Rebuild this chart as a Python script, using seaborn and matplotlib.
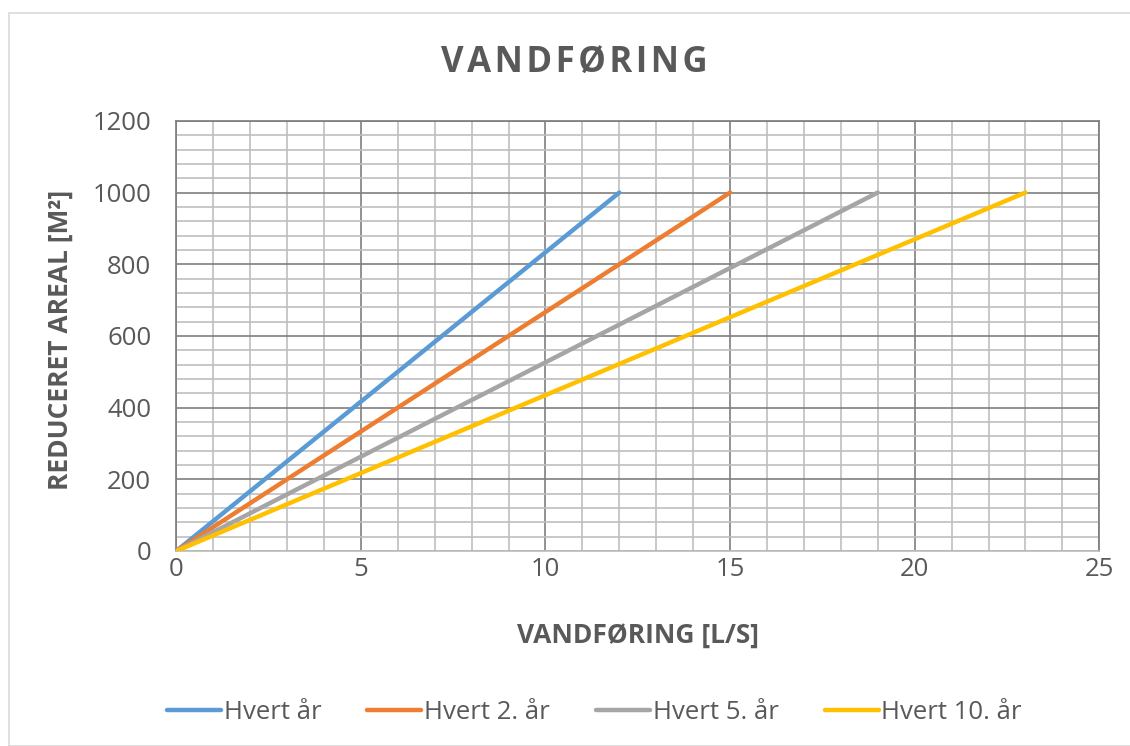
import seaborn as sns
import matplotlib.pyplot as plt
from matplotlib.ticker import MultipleLocator
from matplotlib.patches import Rectangle
import pandas as pd

sns.set_theme(style="white")
plt.rcParams['font.family'] = ['Open Sans', 'DejaVu Sans']

# data
series = ['Hvert år', 'Hvert 2. år', 'Hvert 5. år', 'Hvert 10. år']
areal = [0, 1000]
vandforing = {
    'Hvert år': [0, 12],
    'Hvert 2. år': [0, 15],
    'Hvert 5. år': [0, 19],
    'Hvert 10. år': [0, 23],
}
colors = ['#5B9BD5', '#ED7D31', '#A5A5A5', '#FFC000']

rows = []
for s in series:
    for x, y in zip(vandforing[s], areal):
        rows.append({'serie': s, 'x': x, 'y': y})
df = pd.DataFrame(rows)

text_col = '#595959'
fig = plt.figure(figsize=(11.3, 7.46), dpi=100)
ax = fig.add_axes([0.156, 0.2614, 0.8168, 0.5766])

# chart border
fig.patches.append(Rectangle((9 / 1130, 0), 1.2, 1 - 13 / 746, transform=fig.transFigure,
                             fill=False, edgecolor='#D9D9D9', linewidth=1.2))

sns.lineplot(data=df, x='x', y='y', hue='serie', palette=colors, hue_order=series,
             linewidth=3.2, ax=ax, legend=False, zorder=3)

ax.set_xlim(0, 25)
ax.set_ylim(0, 1200)
ax.xaxis.set_major_locator(MultipleLocator(5))
ax.xaxis.set_minor_locator(MultipleLocator(1))
ax.yaxis.set_major_locator(MultipleLocator(200))
ax.yaxis.set_minor_locator(MultipleLocator(40))
ax.grid(which='major', color='#7F7F7F', linewidth=1.2)
ax.grid(which='minor', color='#BFBFBF', linewidth=1.2)
ax.set_axisbelow(True)
for side in ['top', 'right', 'left']:
    ax.spines[side].set_color('#7F7F7F')
ax.spines['bottom'].set_color('#BFBFBF')
ax.tick_params(which='both', length=0, labelsize=18.5, colors=text_col)
ax.tick_params(axis='x', pad=4)
ax.tick_params(axis='y', pad=18)

ax.set_xlabel('VANDFØRING [L/S]', fontsize=19, fontweight='bold', color=text_col, va='center')
ax.set_ylabel('REDUCERET AREAL [M²]', fontsize=19, fontweight='bold', color=text_col, va='center')
ax.xaxis.set_label_coords(0.5, -0.195)
ax.yaxis.set_label_coords(-0.126, 0.49)
fig.text(0.508, 0.914, 'V A N D F Ø R I N G'.replace(' ', '\u200a'), ha='center', va='center',
         fontsize=25, fontweight='bold', color=text_col)

handles = [plt.Line2D([], [], color=c, linewidth=3.2) for c in colors]
fig.legend(handles, series, loc='center', bbox_to_anchor=(0.526, 0.045), ncol=4, frameon=False,
           fontsize=18.5, labelcolor=text_col, handlelength=2.1, handletextpad=0.1, columnspacing=1.8)

fig.savefig('out.png', dpi=100)
